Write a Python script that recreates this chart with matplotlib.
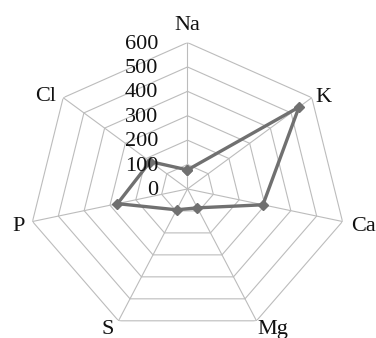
import numpy as np
import matplotlib
matplotlib.use("Agg")
import matplotlib.pyplot as plt

# Elemente und gemessene Werte
elements = ["Na", "K", "Ca", "Mg", "S", "P", "Cl"]
values = [78, 538, 292, 86, 95, 271, 180]
ring_levels = [0, 100, 200, 300, 400, 500, 600]

plt.rcParams["font.family"] = ["Liberation Serif", "DejaVu Serif"]
plt.rcParams["font.size"] = 16

fig = plt.figure(figsize=(3.76, 3.38), dpi=100)
ax = fig.add_axes([0.0758, 0.008, 0.8457, 0.866], projection="polar")
ax.set_aspect("auto")
ax.set_theta_zero_location("N")
ax.set_theta_direction(-1)
ax.set_ylim(0, max(ring_levels))

n = len(elements)
angles = np.arange(n) * 2 * np.pi / n
closed = np.append(angles, angles[0])

# Polygon-Gitter statt Kreise
ax.grid(False)
ax.spines["polar"].set_visible(False)
ax.set_yticks([])
ax.set_xticks([])
grid_col = "#bcbcbc"
for lvl in ring_levels[1:]:
    ax.plot(closed, [lvl] * (n + 1), color=grid_col, lw=0.8, zorder=1)
for a in angles:
    ax.plot([a, a], [0, ring_levels[-1]], color=grid_col, lw=0.8, zorder=1)

# Datenreihe
vals = np.append(values, values[0])
ax.plot(closed, vals, color="#707070", lw=2.4, marker="D", ms=5.5,
        markerfacecolor="#707070", markeredgecolor="#707070", zorder=3)

# Beschriftung der Ecken (Versatz in Punkten, Ausrichtung)
label_pos = [((0, 9.1), "center"), ((2.4, -2.9), "left"), ((6, -6.7), "left"),
             ((0.7, -9.8), "left"), ((-3.1, -9.8), "right"),
             ((-5.3, -6.7), "right"), ((-4.8, -2.4), "right")]
for a, name, (off, ha) in zip(angles, elements, label_pos):
    ax.annotate(name, xy=(a, ring_levels[-1]), xytext=off, textcoords="offset points",
                ha=ha, va="baseline", color="#111111", annotation_clip=False)

for lvl in ring_levels:
    ax.annotate(str(lvl), xy=(0, lvl), xytext=(-21, -1.1), textcoords="offset points",
                ha="right", va="center", color="#111111", zorder=4)

fig.savefig("out.png", dpi=100)
